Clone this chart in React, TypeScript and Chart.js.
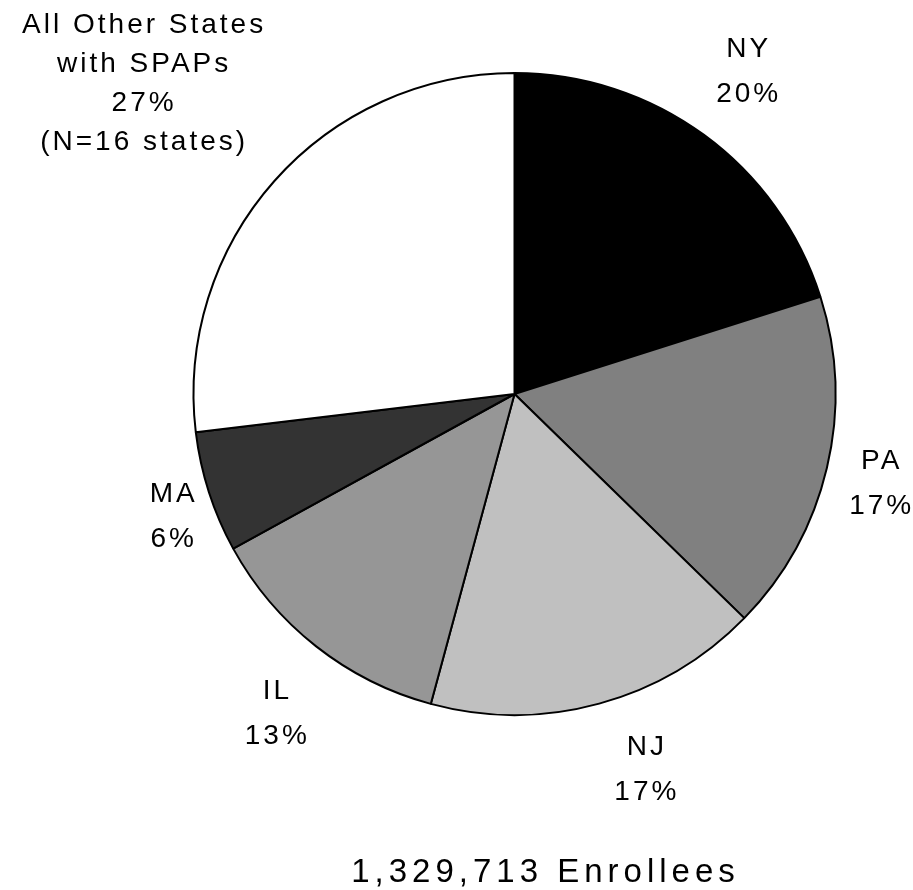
import React, { useEffect, useRef } from "react";
import { Chart, registerables } from "chart.js";

Chart.register(...registerables);

const states = ["NY", "PA", "NJ", "IL", "MA", "All Other States with SPAPs"];
const shares = [20.1, 17.2, 16.9, 12.8, 6.1, 26.9];
const sliceColors = ["#000000", "#808080", "#c0c0c0", "#969696", "#333333", "#ffffff"];
const labelLines = [
  ["NY", "20%"],
  ["PA", "17%"],
  ["NJ", "17%"],
  ["IL", "13%"],
  ["MA", "6%"],
  ["All Other States", "with SPAPs", "27%", "(N=16 states)"],
];
const totalLabel = "1,329,713 Enrollees";

// label placement: distance from centre (px) and angle tweak (deg) from slice mid-angle
const labelDist = [399, 376, 396, 397, 363, 486];
const labelShift = [-0.5, 0.1, -4.0, -1.2, -1.6, -1.5];

const FONT = '"Liberation Sans", Arial, sans-serif';

const labelPlugin = {
  id: "outsideLabels",
  afterDraw(chart: any) {
    const ctx = chart.ctx;
    const meta = chart.getDatasetMeta(0);
    ctx.save();
    ctx.fillStyle = "#000";
    ctx.textAlign = "center";
    ctx.textBaseline = "alphabetic";
    const fs = 28;
    ctx.font = `${fs}px ${FONT}`;
    try { (ctx as any).letterSpacing = "3px"; } catch (e) {}
    meta.data.forEach((arc: any, i: number) => {
      const { x, y, startAngle, endAngle } = arc.getProps(["x", "y", "startAngle", "endAngle"], true);
      const mid = (startAngle + endAngle) / 2 + (labelShift[i] * Math.PI) / 180;
      const cx = x + labelDist[i] * Math.cos(mid);
      const cy = y + labelDist[i] * Math.sin(mid);
      const lines = labelLines[i];
      const lh = lines.length > 2 ? 39 : 45;
      const top = cy - ((lines.length - 1) * lh) / 2;
      lines.forEach((t, j) => {
        ctx.fillText(t, cx + 1.5, top + j * lh + 0.358 * fs);
      });
    });
    // total enrollees caption
    const bfs = 33;
    ctx.font = `${bfs}px ${FONT}`;
    try { (ctx as any).letterSpacing = "5px"; } catch (e) {}
    const cx0 = meta.data[0].x;
    ctx.fillText(totalLabel, cx0 + 31, 882);
    ctx.restore();
  },
};

export default function App() {
  const ref = useRef<HTMLCanvasElement | null>(null);
  useEffect(() => {
    if (!ref.current) return;
    const chart = new Chart(ref.current, {
      type: "pie",
      data: {
        labels: states,
        datasets: [
          {
            data: shares,
            backgroundColor: sliceColors,
            borderColor: "#000000",
            borderWidth: 2,
            borderAlign: "center",
          },
        ],
      },
      options: {
        animation: false,
        responsive: true,
        maintainAspectRatio: false,
        layout: { padding: { left: 192.5, right: 76.5, top: 72, bottom: 174 } },
        plugins: { legend: { display: false }, tooltip: { enabled: false } },
      },
      plugins: [labelPlugin],
    });
    return () => chart.destroy();
  }, []);
  return (
    <div style={{ position: "absolute", left: 0, top: 0, width: 913, height: 890, background: "#fff" }}>
      <canvas ref={ref} />
    </div>
  );
}
